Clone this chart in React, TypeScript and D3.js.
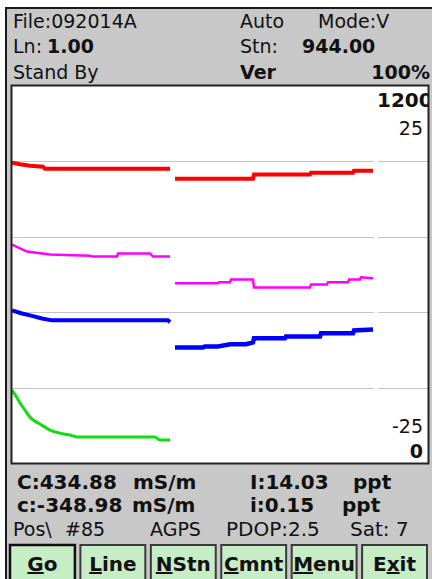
import React, { useEffect, useRef } from "react";
import * as d3 from "d3";

// readings: [index, value] ; y values on the 0..1200 conductivity scale
const redSeg1: Array<[number, number]> = [
  [0, 956], [8, 951], [18, 946], [31, 943], [33, 937], [158, 937],
];
const redSeg2: Array<[number, number]> = [
  [163, 905], [241, 905], [242, 918], [298, 918], [299, 924], [341, 924], [342, 930], [361, 930],
];
const magSeg1: Array<[number, number]> = [
  [0, 695], [15, 673], [38, 664], [78, 660], [81, 657], [105, 657], [106, 667], [138, 667], [141, 657], [158, 657],
];
const magSeg2: Array<[number, number]> = [
  [163, 572], [206, 572], [207, 575], [218, 575], [219, 584], [241, 584], [242, 559], [298, 559],
  [299, 568], [315, 568], [316, 575], [336, 575], [337, 584], [348, 584], [349, 591], [361, 588],
];
const blueSeg1: Array<[number, number]> = [
  [0, 486], [10, 476], [18, 470], [30, 460], [40, 454], [156, 454], [158, 448],
];
const blueSeg2: Array<[number, number]> = [
  [163, 368], [191, 368], [193, 371], [206, 371], [218, 378], [234, 378], [241, 384], [242, 397],
  [273, 397], [274, 403], [308, 403], [309, 413], [341, 413], [342, 422], [361, 425],
];
const greenSeg1: Array<[number, number]> = [
  [0, 232], [4, 213], [8, 191], [13, 168], [18, 146], [23, 133], [28, 124], [38, 105], [48, 95],
  [58, 89], [65, 83], [143, 83], [148, 73], [158, 73],
];

const gridValues = [240, 480, 720, 960];
const buttons = ["Go", "Line", "NStn", "Cmnt", "Menu", "Exit"];
const buttonKeys = [0, 0, 0, 0, 0, 1]; // underlined letter index

export default function App() {
  const ref = useRef<HTMLDivElement | null>(null);

  useEffect(() => {
    if (!ref.current) return;
    d3.select(ref.current).selectAll("svg").remove();

    const width = 432;
    const height = 579;
    const font = "'DejaVu Sans', Verdana, sans-serif";

    const svg = d3
      .select(ref.current)
      .append("svg")
      .attr("width", width)
      .attr("height", height)
      .attr("font-family", font)
      .style("display", "block");

    svg.append("rect").attr("width", width).attr("height", height).attr("fill", "#fff");
    // device panel
    svg
      .append("rect")
      .attr("x", 6)
      .attr("y", 8)
      .attr("width", 440)
      .attr("height", 590)
      .attr("fill", "#c8c8c8")
      .attr("stroke", "#1a1a1a")
      .attr("stroke-width", 2);

    const plot = { left: 12, right: 428, top: 86, bottom: 463 };
    const x = d3.scaleLinear().domain([0, 362]).range([12, 374]);
    const y = d3.scaleLinear().domain([0, 1200]).range([plot.bottom, plot.top]);

    svg
      .append("rect")
      .attr("x", plot.left - 0.5)
      .attr("y", plot.top - 0.5)
      .attr("width", plot.right - plot.left + 1)
      .attr("height", plot.bottom - plot.top + 1)
      .attr("fill", "#fff");

    svg
      .append("defs")
      .append("clipPath")
      .attr("id", "plotclip")
      .append("rect")
      .attr("x", plot.left)
      .attr("y", plot.top)
      .attr("width", plot.right - plot.left)
      .attr("height", plot.bottom - plot.top);

    const g = svg.append("g").attr("clip-path", "url(#plotclip)");

    // grid lines, broken where the data area ends
    g.append("g")
      .selectAll("line")
      .data(gridValues)
      .join("line")
      .attr("x1", plot.left)
      .attr("x2", x(362))
      .attr("y1", (d) => Math.round(y(d)) + 0.5)
      .attr("y2", (d) => Math.round(y(d)) + 0.5)
      .attr("stroke", "#c4c4c4");
    g.append("g")
      .selectAll("line")
      .data(gridValues)
      .join("line")
      .attr("x1", x(366))
      .attr("x2", plot.right)
      .attr("y1", (d) => Math.round(y(d)) + 0.5)
      .attr("y2", (d) => Math.round(y(d)) + 0.5)
      .attr("stroke", "#c4c4c4");

    const line = d3
      .line<[number, number]>()
      .x((d) => x(d[0]))
      .y((d) => y(d[1]));
    const smooth = d3
      .line<[number, number]>()
      .x((d) => x(d[0]))
      .y((d) => y(d[1]))
      .curve(d3.curveMonotoneX);

    const series = [
      { data: redSeg1, color: "#ff0000", w: 4, gen: line },
      { data: redSeg2, color: "#ff0000", w: 4, gen: line },
      { data: magSeg1, color: "#ff00ff", w: 2.5, gen: line },
      { data: magSeg2, color: "#ff00ff", w: 2.5, gen: line },
      { data: blueSeg1, color: "#0000ff", w: 4, gen: line },
      { data: blueSeg2, color: "#0000ff", w: 4.5, gen: line },
      { data: greenSeg1, color: "#11dd11", w: 3, gen: smooth },
    ];
    g.append("g")
      .selectAll("path")
      .data(series)
      .join("path")
      .attr("d", (d) => d.gen(d.data))
      .attr("fill", "none")
      .attr("stroke", (d) => d.color)
      .attr("stroke-width", (d) => d.w)
      .attr("stroke-linejoin", "miter");

    // right-hand scale labels
    const lab = g.append("g").attr("fill", "#111");
    lab.append("text").attr("x", 377).attr("y", 107).attr("font-size", 20).attr("font-weight", "bold").text("1200");
    lab.append("text").attr("x", 423).attr("y", 135).attr("font-size", 19).attr("text-anchor", "end").text("25");
    lab.append("text").attr("x", 423).attr("y", 433).attr("font-size", 19).attr("text-anchor", "end").text("-25");
    lab.append("text").attr("x", 423).attr("y", 458).attr("font-size", 19).attr("font-weight", "bold").attr("text-anchor", "end").text("0");

    svg
      .append("rect")
      .attr("x", plot.left - 0.5)
      .attr("y", plot.top - 0.5)
      .attr("width", plot.right - plot.left + 1)
      .attr("height", plot.bottom - plot.top + 1)
      .attr("fill", "none")
      .attr("stroke", "#222")
      .attr("stroke-width", 2);

    // status text
    type T = { t: string; x: number; y: number; s: number; b?: boolean; end?: boolean };
    const texts: T[] = [
      { t: "File:092014A", x: 13, y: 28, s: 19 },
      { t: "Auto", x: 240, y: 28, s: 19 },
      { t: "Mode:V", x: 318, y: 28, s: 19 },
      { t: "Ln:", x: 13, y: 53, s: 19 },
      { t: "1.00", x: 47, y: 53, s: 19, b: true },
      { t: "Stn:", x: 240, y: 53, s: 19 },
      { t: "944.00", x: 302, y: 53, s: 19, b: true },
      { t: "Stand By", x: 13, y: 79, s: 19 },
      { t: "Ver", x: 240, y: 79, s: 19, b: true },
      { t: "100%", x: 430, y: 79, s: 19, b: true, end: true },
      { t: "C:434.88", x: 17, y: 489, s: 20, b: true },
      { t: "mS/m", x: 133, y: 489, s: 20, b: true },
      { t: "I:14.03", x: 250, y: 489, s: 20, b: true },
      { t: "ppt", x: 353, y: 489, s: 20, b: true },
      { t: "c:-348.98", x: 17, y: 512, s: 20, b: true },
      { t: "mS/m", x: 132, y: 512, s: 20, b: true },
      { t: "i:0.15", x: 250, y: 512, s: 20, b: true },
      { t: "ppt", x: 342, y: 512, s: 20, b: true },
      { t: "Pos\\", x: 13, y: 536, s: 19 },
      { t: "#85", x: 65, y: 536, s: 19 },
      { t: "AGPS", x: 150, y: 536, s: 19 },
      { t: "PDOP:2.5", x: 226, y: 536, s: 20 },
      { t: "Sat: 7", x: 350, y: 536, s: 20 },
    ];
    svg
      .append("g")
      .attr("fill", "#111")
      .selectAll("text")
      .data(texts)
      .join("text")
      .attr("x", (d) => d.x)
      .attr("y", (d) => d.y)
      .attr("font-size", (d) => d.s)
      .attr("font-weight", (d) => (d.b ? "bold" : "normal"))
      .attr("text-anchor", (d) => (d.end ? "end" : "start"))
      .text((d) => d.t);

    // soft-key buttons
    const bx = d3.scaleBand<string>().domain(buttons).range([9, 428]).paddingInner(0.05);
    const bg = svg
      .append("g")
      .selectAll("g")
      .data(buttons)
      .join("g")
      .attr("transform", (d) => `translate(${bx(d)},544)`);
    bg.append("rect")
      .attr("x", 1)
      .attr("y", 1)
      .attr("width", bx.bandwidth() - 2)
      .attr("height", 40)
      .attr("fill", "#c6edc6")
      .attr("stroke", (d, i) => (i === 0 ? "#111" : "#3a3a3a"))
      .attr("stroke-width", (d, i) => (i === 0 ? 2.5 : 2));
    const bt = bg
      .append("text")
      .attr("x", bx.bandwidth() / 2)
      .attr("y", 27)
      .attr("text-anchor", "middle")
      .attr("font-size", 20)
      .attr("font-weight", "bold")
      .attr("fill", "#111");
    bt.each(function (d, i) {
      const k = buttonKeys[i];
      const t = d3.select(this);
      if (k > 0) t.append("tspan").text(d.slice(0, k));
      t.append("tspan").attr("text-decoration", "underline").text(d[k]);
      t.append("tspan").text(d.slice(k + 1));
    });
  });

  return <div ref={ref} style={{ position: "fixed", left: 0, top: 0 }}></div>;
}
